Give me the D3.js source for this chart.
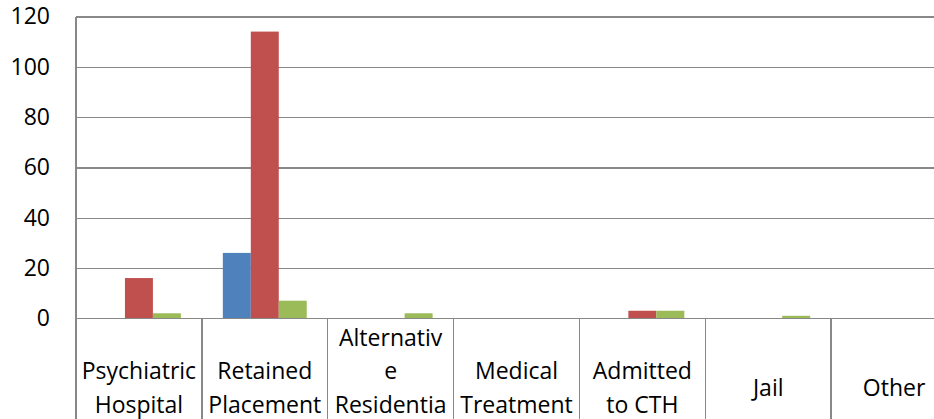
<!DOCTYPE html>
<html>
<head>
<meta charset="utf-8">
<script src="https://cdn.jsdelivr.net/npm/d3@7"></script>
<style>
  html, body { margin: 0; padding: 0; background: #ffffff; overflow: hidden; }
  svg { display: block; }
</style>
</head>
<body>
<svg id="chart" width="934" height="419"></svg>
<script>
// Outcome categories along the horizontal axis
const categories = [
  "Psychiatric Hospital", "Retained Placement", "Alternative Residential",
  "Medical Treatment", "Admitted to CTH", "Jail", "Other"
];
// Category labels wrapped into the lines shown under each column
const categoryLines = [
  ["Psychiatric", "Hospital"],
  ["Retained", "Placement"],
  ["Alternativ", "e", "Residentia", "l"],
  ["Medical", "Treatment"],
  ["Admitted", "to CTH"],
  ["Jail"],
  ["Other"]
];
// Three series per category
const seriesNames = ["Series 1", "Series 2", "Series 3"];
const blueValues  = [0, 26, 0, 0, 0, 0, 0];
const redValues   = [16, 114, 0, 0, 3, 0, 0];
const greenValues = [2, 7, 2, 0, 3, 1, 0];
const seriesColors = ["#4F81BD", "#C0504D", "#9BBB59"];
// Value axis ticks
const yTicks = [0, 20, 40, 60, 80, 100, 120];

const svg = d3.select("#chart");
const W = 934, H = 419;
const plot = { left: 76, right: 957, top: 16.5, bottom: 318.3 };
const font = "'Open Sans', 'Noto Sans', sans-serif";
const fontSize = 23;
const gridColor = "#888888";

const seriesValues = [blueValues, redValues, greenValues];
const rows = categories.map((c, i) => ({
  category: c,
  values: seriesNames.map((s, k) => ({ series: s, value: seriesValues[k][i], color: seriesColors[k] }))
}));

const x = d3.scaleBand().domain(categories).range([plot.left, plot.right]).paddingInner(0).paddingOuter(0);
// gap width of 150% between column groups
const xs = d3.scaleBand().domain(seriesNames).range([0, x.bandwidth()]).paddingInner(0).paddingOuter(0.75);
const y = d3.scaleLinear().domain([0, 120]).range([plot.bottom, plot.top]);

// horizontal gridlines and value labels
const yAxis = d3.axisLeft(y)
  .tickValues(yTicks)
  .tickSizeInner(-(plot.right - plot.left))
  .tickSizeOuter(0)
  .tickPadding(26)
  .tickFormat(d3.format("d"));

const gy = svg.append("g")
  .attr("transform", `translate(${plot.left},0)`)
  .call(yAxis);
gy.select(".domain").remove();
gy.selectAll(".tick line")
  .attr("stroke", gridColor)
  .attr("stroke-width", 1.3)
  .attr("shape-rendering", "crispEdges");
gy.selectAll(".tick text")
  .attr("fill", "#000000")
  .style("font-family", font)
  .style("font-size", fontSize + "px");

// columns
const groups = svg.append("g").selectAll("g")
  .data(rows)
  .join("g")
  .attr("transform", d => `translate(${x(d.category)},0)`);

groups.selectAll("rect")
  .data(d => d.values)
  .join("rect")
  .attr("x", d => xs(d.series))
  .attr("width", xs.bandwidth())
  .attr("y", d => y(d.value))
  .attr("height", d => y(0) - y(d.value))
  .attr("fill", d => d.color);

// category axis line at zero
svg.append("line")
  .attr("x1", plot.left).attr("x2", plot.right)
  .attr("y1", y(0)).attr("y2", y(0))
  .attr("stroke", gridColor).attr("stroke-width", 1.3)
  .attr("shape-rendering", "crispEdges");

// value axis line
svg.append("line")
  .attr("x1", plot.left).attr("x2", plot.left)
  .attr("y1", plot.top).attr("y2", y(0))
  .attr("stroke", gridColor).attr("stroke-width", 1.3)
  .attr("shape-rendering", "crispEdges");

// category dividers running down through the label area
const dividers = categories.map(c => x(c)).concat([x(categories[categories.length - 1]) + x.bandwidth()]);
svg.append("g").selectAll("line")
  .data(dividers)
  .join("line")
  .attr("x1", d => d).attr("x2", d => d)
  .attr("y1", y(0)).attr("y2", H + 40)
  .attr("stroke", gridColor).attr("stroke-width", 1.3)
  .attr("shape-rendering", "crispEdges");

// wrapped category labels, centred in each cell
const labelCenterY = 387.8;
const linePitch = 33.7;
const baselineOffset = 8.3;
const labels = svg.append("g").selectAll("text")
  .data(categories)
  .join("text")
  .attr("x", d => x(d) + x.bandwidth() / 2)
  .attr("text-anchor", "middle")
  .attr("fill", "#000000")
  .style("font-family", font)
  .style("font-size", fontSize + "px");

labels.each(function (d, i) {
  const lines = categoryLines[i];
  const n = lines.length;
  d3.select(this).selectAll("tspan")
    .data(lines)
    .join("tspan")
    .attr("x", x(d) + x.bandwidth() / 2)
    .attr("y", (l, j) => labelCenterY + (j - (n - 1) / 2) * linePitch + baselineOffset)
    .text(l => l);
});
</script>
</body>
</html>
